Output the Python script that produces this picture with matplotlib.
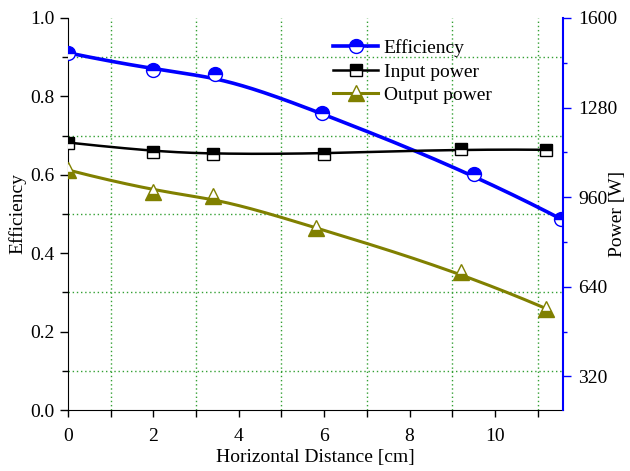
import numpy as np
import matplotlib
matplotlib.use("Agg")
import matplotlib.pyplot as plt
from matplotlib.ticker import MultipleLocator, FixedLocator, FormatStrFormatter

plt.rcParams.update({'font.family': 'Liberation Serif', 'font.size': 14})

# data
x_eff = [0, 2, 3.45, 5.95, 9.5, 11.55]
eff = [0.911, 0.866, 0.858, 0.757, 0.603, 0.487]
x_in = [0, 2, 3.4, 6.0, 9.2, 11.2]
p_in = [1155, 1122, 1114, 1114, 1132, 1129]
x_out = [0, 2, 3.4, 5.8, 9.2, 11.2]
p_out = [1057, 979, 964, 850, 693, 562]


def bspline(x, y, n=300):
    # clamped cubic B-spline with the data points as control points (Origin style)
    P = np.column_stack([x, y]).astype(float)
    k = 3
    m = len(P)
    inner = np.linspace(0, 1, m - k + 1)[1:-1]
    t = np.concatenate([np.zeros(k + 1), inner, np.ones(k + 1)])
    us = np.linspace(0, 1, n)
    out = []
    for u in us:
        if u >= 1:
            out.append(P[-1])
            continue
        j = np.searchsorted(t, u, side='right') - 1
        d = [P[j - k + i].copy() for i in range(k + 1)]
        for r in range(1, k + 1):
            for i in range(k, r - 1, -1):
                a = (u - t[j - k + i]) / (t[j + 1 + i - r] - t[j - k + i])
                d[i] = (1 - a) * d[i - 1] + a * d[i]
        out.append(d[k])
    out = np.array(out)
    return out[:, 0], out[:, 1]


fig = plt.figure(figsize=(6.3, 4.71), dpi=100)
ax = fig.add_axes([0.108, 0.1295, 0.786, 0.8325])
ax2 = ax.twinx()

green = '#33a033'
blue = '#0000ff'
olive = '#808000'

sx, sy = bspline(x_eff, eff)
ax.plot(sx, sy, color=blue, lw=2.6, zorder=3)
ax.plot(x_eff, eff, ls='none', marker='o', ms=10, mfc=blue, mec=blue,
        fillstyle='top', mfcalt='white', mew=1.0, zorder=4)
h_eff, = ax.plot([], [], color=blue, lw=2.6, marker='o', ms=10, mfc=blue, mec=blue,
                 fillstyle='top', mfcalt='white', mew=1.0)

sx, sy = bspline(x_in, p_in)
ax2.plot(sx, sy, color='black', lw=1.8)
ax2.plot(x_in, p_in, ls='none', marker='s', ms=9, mfc='black', mec='black',
         fillstyle='top', mfcalt='white', mew=1.0)
h_in, = ax2.plot([], [], color='black', lw=1.8, marker='s', ms=9, mfc='black',
                 mec='black', fillstyle='top', mfcalt='white', mew=1.0)

sx, sy = bspline(x_out, p_out)
ax2.plot(sx, sy, color=olive, lw=2.2)
ax2.plot(x_out, p_out, ls='none', marker='^', ms=11, mfc=olive, mec=olive,
         fillstyle='bottom', mfcalt='white', mew=1.0)
h_out, = ax2.plot([], [], color=olive, lw=2.2, marker='^', ms=11, mfc=olive,
                  mec=olive, fillstyle='bottom', mfcalt='white', mew=1.0)

ax.set_xlim(0, 11.6)
ax.set_ylim(0, 1.0)
ax2.set_ylim(200, 1600)

ax.xaxis.set_major_locator(MultipleLocator(2))
ax.xaxis.set_minor_locator(MultipleLocator(1))
ax.yaxis.set_major_locator(MultipleLocator(0.2))
ax.yaxis.set_minor_locator(MultipleLocator(0.1))
ax.yaxis.set_major_formatter(FormatStrFormatter('%.1f'))
ax2.yaxis.set_major_locator(FixedLocator([320, 640, 960, 1280, 1600]))
ax2.yaxis.set_minor_locator(FixedLocator([480, 800, 1120, 1440]))

ax.grid(which='minor', color=green, ls=(0, (1, 2)), lw=1.0)
ax.set_axisbelow(True)

for a in (ax, ax2):
    a.spines['top'].set_visible(False)
ax.spines['right'].set_visible(False)
ax2.spines['left'].set_visible(False)
ax2.spines['bottom'].set_visible(False)
ax2.spines['right'].set_color(blue)
ax2.spines['right'].set_linewidth(1.5)

ax.tick_params(which='major', direction='out', length=6, width=1, labelsize=14)
ax.tick_params(which='minor', direction='out', length=4, width=1)
ax.tick_params(axis='x', which='both', length=5, pad=8)
ax.tick_params(axis='y', right=False)
ax2.tick_params(which='major', direction='out', length=6, width=1, colors=blue,
                labelcolor='black', labelsize=14, pad=5)
ax2.tick_params(which='minor', direction='out', length=3, width=1, colors=blue)

ax.set_xlabel('Horizontal Distance [cm]', fontsize=14, labelpad=3)
ax.set_ylabel('Efficiency', fontsize=14, labelpad=3)
ax2.set_ylabel('Power [W]', fontsize=14, labelpad=-6)

ax2.legend([h_eff, h_in, h_out], ['Efficiency', 'Input power', 'Output power'],
           loc='upper left', bbox_to_anchor=(0.52, 0.965), frameon=False,
           handlelength=2.3, handletextpad=0.3, labelspacing=0.3,
           borderaxespad=0, fontsize=14)

fig.savefig('out.png', dpi=100)
